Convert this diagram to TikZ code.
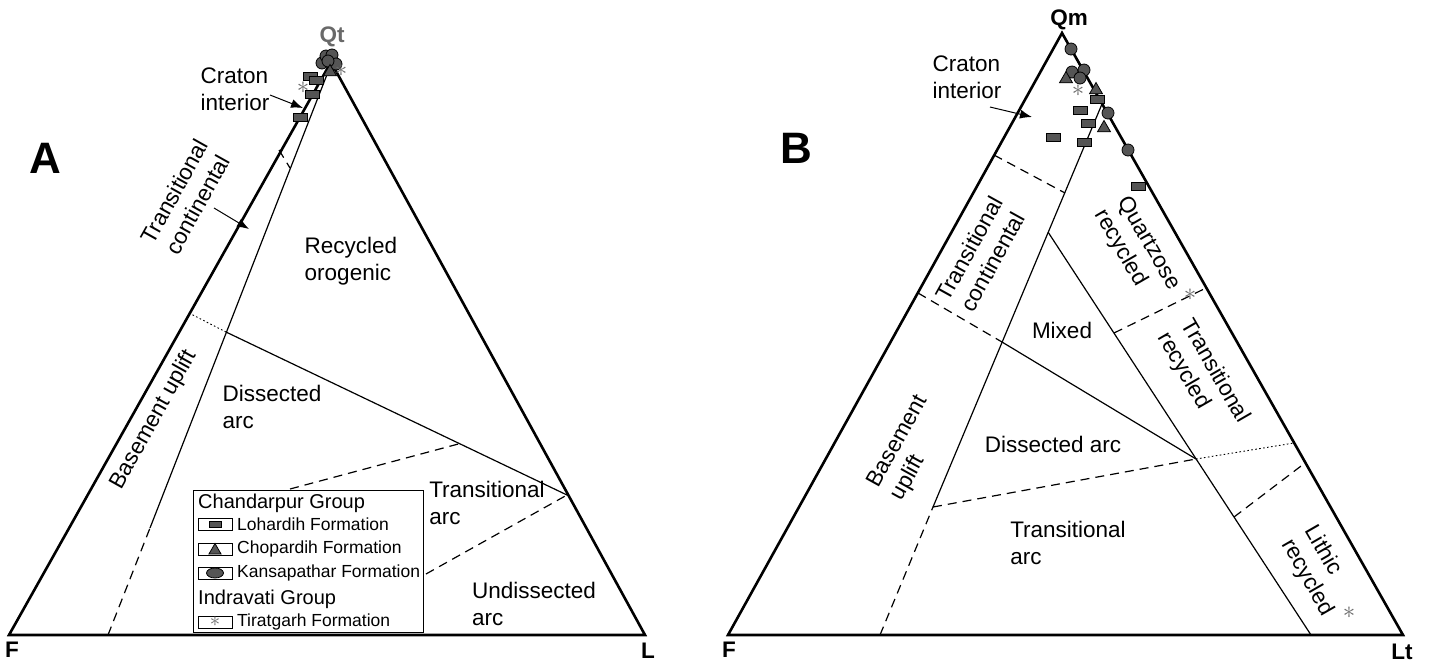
\documentclass[tikz,border=0pt]{standalone}
\usepackage{fontspec}
\setmainfont{Liberation Sans}
\usetikzlibrary{calc,arrows.meta,shapes.geometric}

\definecolor{mkfill}{RGB}{85,85,85}
\definecolor{astgray}{RGB}{105,105,105}

\tikzset{
  rim/.style={line width=2.6pt, line join=miter},
  fline/.style={line width=1.2pt},
  fdash/.style={fline, dash pattern=on 9pt off 6pt},
  fdot/.style={line width=0.9pt, dash pattern=on 1.6pt off 2.4pt},
  lbl/.style={font=\fontsize{22.5}{27}\selectfont, align=left, inner sep=0pt},
  apexlbl/.style={font=\bfseries\fontsize{22.5}{27}\selectfont, inner sep=0pt},
  panel/.style={font=\bfseries\fontsize{44}{44}\selectfont, inner sep=0pt},
  ptr/.style={line width=1pt, -{Latex[length=12pt,width=9pt]}},
  sq/.style={draw, line width=0.8pt, fill=mkfill, minimum width=14pt, minimum height=8pt, inner sep=0pt},
  mkcirc/.style={circle, draw, line width=0.8pt, fill=mkfill, minimum size=12pt, inner sep=0pt},
  tri/.style={regular polygon, regular polygon sides=3, draw, line width=0.8pt, fill=mkfill, minimum size=15pt, inner sep=0pt},
  ast/.style={text=astgray, font=\fontsize{26}{26}\selectfont, inner sep=0pt},
  leggrp/.style={font=\fontsize{20}{24}\selectfont, anchor=west, inner sep=0pt},
  legtxt/.style={font=\fontsize{17.5}{20}\selectfont, anchor=west, inner sep=0pt},
  legbox/.style={draw, line width=0.8pt, minimum width=34pt, minimum height=12pt, inner sep=0pt},
}

\begin{document}
\begin{tikzpicture}[x=1pt,y=-1pt]
\useasboundingbox (0,0) rectangle (1430,665);

% ---------- A : QtFL ----------
\coordinate (FA) at (9,635);
\coordinate (LA) at (645,635);
\coordinate (QtA) at (331,62);
\coordinate (IAb) at (108,635);
\coordinate (IAm) at (150,528);
\coordinate (IAt) at (328,72);
\coordinate (CAl) at (279,150);
\coordinate (CAr) at (290,168);
\coordinate (BAl) at (189,313);
\coordinate (JA) at (226,332);
\coordinate (RA) at (567,495);
\coordinate (DAl) at (290,489);
\coordinate (DAr) at ($(JA)!0.685!(RA)$);
\coordinate (UAl) at (426,574);

\draw[fdash] (IAb) -- (IAm);
\draw[fline] (IAm) -- (IAt);
\draw[fdash] (CAl) -- (CAr);
\draw[fdot] (BAl) -- (JA);
\draw[fline] (JA) -- (RA);
\draw[fdash] (DAl) -- (DAr);
\draw[fdash] (UAl) -- (RA);
\draw[rim] (FA) -- (QtA) -- (LA) -- cycle;

\node[panel] (pa) at (45,158) {A};
\node[apexlbl, text=astgray] (qt) at (332,37) {Qt};
\node[apexlbl] (fa) at (12,650) {F};
\node[apexlbl] (la) at (648,651) {L};

\node[lbl] (cratA) at (235,89) {Craton\\interior};
\coordinate (cratAt) at (270,95);
\draw[ptr] (cratAt) -- (303,108);
\node[lbl, align=center, rotate=60.75] (tcA) at (186,198) {Transitional\\continental};
\coordinate (tcAt) at (214,208);
\draw[ptr] (tcAt) -- (249,229);
\node[lbl, rotate=60.75] (buA) at (154,420) {Basement uplift};
\node[lbl] (roA) at (351,261) {Recycled\\orogenic};
\node[lbl] (daA) at (272,407) {Dissected\\arc};
\node[lbl] (taA) at (487,503) {Transitional\\arc};
\node[lbl] (uaA) at (534,604) {Undissected\\arc};

% data A
\foreach \x/\y [count=\i] in {310/76, 316/80, 312/94, 300/117}
  {\node[sq] (sqa\i) at (\x,\y) {};}
\foreach \x/\y [count=\i] in {322/63, 326/56, 332/55, 336/64, 328/61}
  {\node[mkcirc] (cia\i) at (\x,\y) {};}
\node[tri] (tra1) at (330,72) {};
\foreach \x/\y [count=\i] in {303/88, 341/71}
  {\node[ast] (asa\i) at (\x,\y) {$\ast$};}

% legend
\draw[fill=white, line width=0.8pt] (193,490) rectangle (423,632);
\node[leggrp] (chgrp) at (198,503) {Chandarpur Group};
\foreach \yy/\nm [count=\i] in {524/Lohardih, 549/Chopardih, 573/Kansapathar}
  {\node[legbox] (lb\i) at (215,\yy) {};
   \node[legtxt] (lt\i) at (237,\yy) {\nm\ Formation};}
\node[sq, minimum width=12pt, minimum height=6pt] (ls1) at (lb1) {};
\node[tri, minimum size=14pt] (ls2) at ($(lb2)+(0,1.5)$) {};
\node[ellipse, draw, line width=0.8pt, fill=mkfill, minimum width=17pt, minimum height=10pt, inner sep=0pt] (ls3) at (lb3) {};
\node[leggrp] (ingrp) at (198,599) {Indravati Group};
\node[legbox] (lb4) at (215,622) {};
\node[ast, font=\fontsize{20}{20}\selectfont] (ls4) at (lb4) {$\ast$};
\node[legtxt] (lt4) at (237,622) {Tiratgarh Formation};

% ---------- B : QmFLt ----------
\coordinate (FB) at (728,635);
\coordinate (LB) at (1403,635);
\coordinate (QmB) at (1062,33);
\coordinate (IBb) at (880,635);
\coordinate (IBm) at (933,507);
\coordinate (IBt) at (1102,104);
\coordinate (CBl) at (994,155);
\coordinate (CBr) at (1065,193);
\coordinate (TBl) at (918,293);
\coordinate (MB) at (1002,342);
\coordinate (KBt) at (1048,232);
\coordinate (KBb) at (1311,635);
\coordinate (JB) at (1196,459);
\coordinate (EB) at (1294,443);
\coordinate (QBl) at (1114,333);
\coordinate (QBr) at (1206,288);
\coordinate (LBl) at (1234,517);
\coordinate (LBr) at (1305,463);

\draw[fdash] (IBb) -- (IBm);
\draw[fline] (IBm) -- (IBt);
\draw[fdash] (CBl) -- (CBr);
\draw[fdash] (TBl) -- (MB);
\draw[fline] (MB) -- (JB);
\draw[fline] (KBt) -- (KBb);
\draw[fdash] (IBm) -- (JB);
\draw[fdot] (JB) -- (EB);
\draw[fdash] (QBl) -- (QBr);
\draw[fdash] (LBl) -- (LBr);
\draw[rim] (FB) -- (QmB) -- (LB) -- cycle;

\node[panel] (pb) at (796,148) {B};
\node[apexlbl] (qm) at (1069,20) {Qm};
\node[apexlbl] (fb) at (729,650) {F};
\node[apexlbl] (lt) at (1402,652) {Lt};

\node[lbl] (cratB) at (967,77) {Craton\\interior};
\coordinate (cratBt) at (990,107);
\draw[ptr] (cratBt) -- (1032,117);
\node[lbl, align=center, rotate=61] (tcB) at (981,255) {Transitional\\continental};
\node[lbl, rotate=61] (buB) at (910,448) {Basement\\uplift};
\node[lbl, rotate=-60] (qrB) at (1137,250) {Quartzose\\recycled};
\node[lbl, rotate=-60] (trB) at (1203,378) {Transitional\\recycled};
\node[lbl] (mxB) at (1062,330) {Mixed};
\node[lbl] (daB) at (1053,444) {Dissected arc};
\node[lbl] (taB) at (1068,543) {Transitional\\arc};
\node[lbl, rotate=-60] (lrB) at (1319,571) {Lithic\\recycled};

% data B
\foreach \x/\y [count=\i] in {1097/99, 1080/110, 1088/123, 1053/137, 1084/142, 1138/186}
  {\node[sq] (sqb\i) at (\x,\y) {};}
\foreach \x/\y [count=\i] in {1071/49, 1072/72, 1084/70, 1080/78, 1108/113, 1128/150}
  {\node[mkcirc] (cib\i) at (\x,\y) {};}
\foreach \x/\y [count=\i] in {1066/79, 1096/90, 1104/128}
  {\node[tri] (trb\i) at (\x,\y) {};}
\foreach \x/\y [count=\i] in {1078/91, 1190/295, 1349/613}
  {\node[ast] (asb\i) at (\x,\y) {$\ast$};}
\end{tikzpicture}
\end{document}
